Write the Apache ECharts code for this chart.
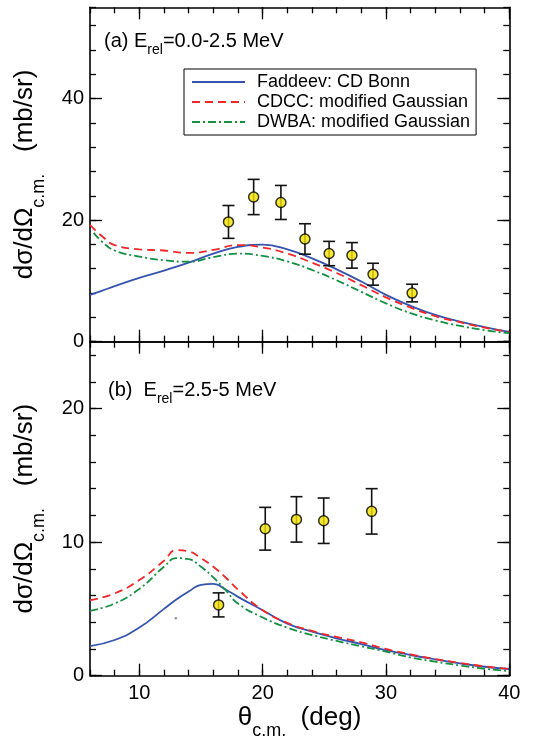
<!DOCTYPE html>
<html><head><meta charset="utf-8">
<script src="https://cdn.jsdelivr.net/npm/echarts@6/dist/echarts.min.js"></script>
<style>html,body{margin:0;padding:0;background:#fff}#c{width:533px;height:743px}</style>
</head><body><div id="c"></div><script>
const FONT = '"Liberation Sans", Arial, Helvetica, sans-serif';

// ---------- Panel (a): E_rel = 0.0-2.5 MeV ----------
const thetaA = [17.23, 19.27, 21.48, 23.43, 25.39, 27.24, 28.95, 32.12];
const sigmaA = [19.7, 23.8, 22.9, 16.9, 14.5, 14.2, 11.1, 8.0];
const errA   = [2.7, 2.9, 2.8, 2.5, 2.0, 2.1, 1.8, 1.45];
const curveXA   = [6, 7, 8, 10, 12, 14, 16, 18, 20, 22, 24, 26, 28, 30, 32, 34, 36, 38, 40];
const faddeevA  = [7.7, 8.4, 9.15, 10.5, 11.7, 13.0, 14.5, 15.6, 15.95, 15.2, 13.7, 11.9, 9.9, 7.7, 5.9, 4.4, 3.3, 2.4, 1.6];
const cdccA     = [19.2, 17.3, 15.9, 15.2, 15.0, 14.6, 15.1, 15.9, 15.5, 14.5, 13.0, 11.3, 9.3, 7.3, 5.6, 4.2, 3.2, 2.3, 1.6];
const dwbaXA    = [6.3, 7, 8, 10, 12, 14, 16, 18, 20, 22, 24, 26, 28, 30, 32, 34, 36, 38, 40];
const dwbaA     = [17.9, 16.4, 15.0, 14.0, 13.4, 13.15, 13.9, 14.5, 14.1, 13.2, 11.8, 10.1, 8.2, 6.3, 4.7, 3.5, 2.6, 1.9, 1.4];

// ---------- Panel (b): E_rel = 2.5-5 MeV ----------
const thetaB = [16.43, 20.21, 22.74, 24.95, 28.84];
const sigmaB = [5.3, 11.0, 11.7, 11.6, 12.3];
const errB   = [0.9, 1.6, 1.7, 1.7, 1.7];
const curveXB  = [6, 8, 10, 12, 13, 14, 15, 16, 17, 18, 20, 22, 24, 26, 28, 30, 32, 34, 36, 38, 40];
const faddeevB = [2.22, 2.67, 3.6, 5.0, 5.7, 6.3, 6.8, 6.88, 6.45, 5.9, 4.9, 3.9, 3.3, 2.8, 2.37, 1.92, 1.55, 1.22, 0.92, 0.67, 0.5];
const cdccB    = [5.66, 6.16, 7.16, 8.6, 9.4, 9.3, 8.8, 8.15, 7.35, 6.45, 4.9, 3.95, 3.35, 2.9, 2.5, 2.0, 1.6, 1.25, 0.95, 0.7, 0.5];
const dwbaB    = [4.86, 5.4, 6.5, 8.15, 8.8, 8.72, 8.15, 7.36, 6.4, 5.4, 4.36, 3.6, 3.04, 2.6, 2.2, 1.8, 1.37, 1.05, 0.77, 0.52, 0.35];
const strayB   = [[12.96, 4.3]];

// ---------- axes / ticks ----------
const xRange = [6, 40];
const xMajor = [10, 20, 30, 40];
const yMaxA = 55, yMinorA = 4, yMajorA = [0, 20, 40];
const yMaxB = 25, yMinorB = 2, yMajorB = [0, 10, 20];

const names = ['Faddeev: CD Bonn', 'CDCC: modified Gaussian', 'DWBA: modified Gaussian'];
const colors = ['#3554b0', '#f02828', '#139042'];
const dashes = ['solid', [8, 5], [8, 3, 2, 3]];

const lineSty = {color: '#000', width: 1.6};
const tickSty = {color: '#000', width: 1.3};
const labelSty = {fontSize: 20, fontFamily: FONT, color: '#000'};

function xAxes(g, showLabels) {
  const c = {type: 'value', gridIndex: g, min: xRange[0], max: xRange[1], splitLine: {show: false}};
  return [
    Object.assign({}, c, {position: 'bottom', interval: 2, axisLine: {show: true, onZero: false, lineStyle: lineSty},
      axisTick: {show: true, inside: true, length: 6, lineStyle: tickSty}, axisLabel: {show: false}}),
    Object.assign({}, c, {position: 'bottom', axisLine: {show: false, onZero: false},
      axisTick: {show: true, inside: true, length: 12, customValues: xMajor, lineStyle: tickSty},
      axisLabel: Object.assign({show: showLabels, customValues: xMajor, margin: 8}, labelSty)}),
    Object.assign({}, c, {position: 'top', interval: 2, axisLine: {show: true, onZero: false, lineStyle: lineSty},
      axisTick: {show: true, inside: true, length: 6, lineStyle: tickSty}, axisLabel: {show: false}}),
    Object.assign({}, c, {position: 'top', axisLine: {show: false, onZero: false},
      axisTick: {show: true, inside: true, length: 12, customValues: xMajor, lineStyle: tickSty}, axisLabel: {show: false}})
  ];
}
function yAxes(g, max, minor, majors) {
  const c = {type: 'value', gridIndex: g, min: 0, max: max, splitLine: {show: false}};
  return [
    Object.assign({}, c, {position: 'left', interval: minor, axisLine: {show: true, onZero: false, lineStyle: lineSty},
      axisTick: {show: true, inside: true, length: 6, lineStyle: tickSty}, axisLabel: {show: false}}),
    Object.assign({}, c, {position: 'left', axisLine: {show: false, onZero: false},
      axisTick: {show: true, inside: true, length: 12, customValues: majors, lineStyle: tickSty},
      axisLabel: Object.assign({show: true, customValues: majors, margin: 6}, labelSty)}),
    Object.assign({}, c, {position: 'right', interval: minor, axisLine: {show: true, onZero: false, lineStyle: lineSty},
      axisTick: {show: true, inside: true, length: 6, lineStyle: tickSty}, axisLabel: {show: false}}),
    Object.assign({}, c, {position: 'right', axisLine: {show: false, onZero: false},
      axisTick: {show: true, inside: true, length: 12, customValues: majors, lineStyle: tickSty}, axisLabel: {show: false}})
  ];
}

function curve(i, xi, yi, xs, ys) {
  return {type: 'line', name: names[i], xAxisIndex: xi, yAxisIndex: yi, symbol: 'none', smooth: 0.5,
    data: xs.map((x, k) => [x, ys[k]]), z: 2,
    lineStyle: {color: colors[i], width: 1.8, type: dashes[i]}, itemStyle: {color: colors[i]}};
}
function errSeries(xi, yi, xs, ys, es) {
  return {type: 'custom', xAxisIndex: xi, yAxisIndex: yi, silent: true, z: 3,
    data: xs.map((x, k) => [x, ys[k], es[k]]), encode: {x: 0, y: 1},
    renderItem: function (params, api) {
      const x = api.value(0), y = api.value(1), e = api.value(2);
      const t = api.coord([x, y + e]), b = api.coord([x, y - e]);
      const w = 6, st = {stroke: '#111', lineWidth: 1.6};
      return {type: 'group', children: [
        {type: 'line', shape: {x1: t[0], y1: t[1], x2: b[0], y2: b[1]}, style: st},
        {type: 'line', shape: {x1: t[0] - w, y1: t[1], x2: t[0] + w, y2: t[1]}, style: st},
        {type: 'line', shape: {x1: b[0] - w, y1: b[1], x2: b[0] + w, y2: b[1]}, style: st}]};
    }};
}
function pts(xi, yi, xs, ys) {
  return {type: 'scatter', name: 'data', xAxisIndex: xi, yAxisIndex: yi, z: 4, symbol: 'circle', symbolSize: 10,
    data: xs.map((x, k) => [x, ys[k]]),
    itemStyle: {color: '#f5e400', borderColor: '#000', borderWidth: 1.5}};
}

// ---------- text helpers (real text, laid out with measured widths) ----------
const meas = document.createElement('canvas').getContext('2d');
function tw(t, s) { meas.font = s + 'px ' + FONT; return meas.measureText(t).width; }
function run(parts, x, y, center, rot) {
  const ws = parts.map(p => tw(p[0], p[1]));
  const tot = ws.reduce((a, b) => a + b, 0);
  let cx = center ? -tot / 2 : 0;
  const ch = parts.map((p, i) => {
    const el = {type: 'text', x: cx, y: p[2] - 0.35 * p[1],
      style: {text: p[0], fontSize: p[1], fontFamily: FONT, fill: '#000', align: 'left', verticalAlign: 'middle'}};
    cx += ws[i];
    return el;
  });
  return {type: 'group', x: x, y: y, rotation: rot || 0, children: ch};
}
const yTitle = [['d\u03c3/d\u03a9', 26, 0], ['c.m.', 18, 11], ['   (mb/sr)', 26, 0]];
const xTitle = [['\u03b8', 26, 0], ['c.m.', 18, 11], ['  (deg)', 26, 0]];

const option = {
  animation: false,
  backgroundColor: '#fff',
  grid: [
    {left: 90, right: 23.7, top: 7.3, height: 334.4},
    {left: 90, right: 23.7, top: 341.7, height: 334}
  ],
  xAxis: xAxes(0, false).concat(xAxes(1, true)),
  yAxis: yAxes(0, yMaxA, yMinorA, yMajorA).concat(yAxes(1, yMaxB, yMinorB, yMajorB)),
  legend: {
    data: names, orient: 'vertical', left: 184, top: 69, backgroundColor: '#fff',
    borderColor: '#000', borderWidth: 1, padding: [3, 6, 3, 7], itemGap: 0,
    itemWidth: 53, itemHeight: 18, selectedMode: false,
    itemStyle: {opacity: 0},
    textStyle: {fontSize: 18, fontFamily: FONT, color: '#000', lineHeight: 20, padding: [0, 0, 0, 7]}
  },
  series: [
    curve(0, 0, 0, curveXA, faddeevA),
    curve(1, 0, 0, curveXA, cdccA),
    curve(2, 0, 0, dwbaXA, dwbaA),
    errSeries(0, 0, thetaA, sigmaA, errA),
    pts(0, 0, thetaA, sigmaA),
    curve(0, 4, 4, curveXB, faddeevB),
    curve(1, 4, 4, curveXB, cdccB),
    curve(2, 4, 4, curveXB, dwbaB),
    errSeries(4, 4, thetaB, sigmaB, errB),
    pts(4, 4, thetaB, sigmaB),
    {type: 'scatter', name: 'stray', xAxisIndex: 4, yAxisIndex: 4, silent: true, symbolSize: 2.5,
      data: strayB, itemStyle: {color: '#777'}}
  ],
  graphic: [
    run(yTitle, 34, 174.5, true, Math.PI / 2),
    run(yTitle, 34, 508.7, true, Math.PI / 2),
    run(xTitle, 299.5, 726.7, true, 0),
    run([['(a) E', 20, 0], ['rel', 14, 7], ['=0.0-2.5 MeV', 20, 0]], 104, 48.5, false, 0),
    run([['(b)  E', 20, 0], ['rel', 14, 7], ['=2.5-5 MeV', 20, 0]], 108, 397.5, false, 0)
  ]
};
const chart = echarts.init(document.getElementById('c'), null, {renderer: 'canvas'});
chart.setOption(option);
</script></body></html>
